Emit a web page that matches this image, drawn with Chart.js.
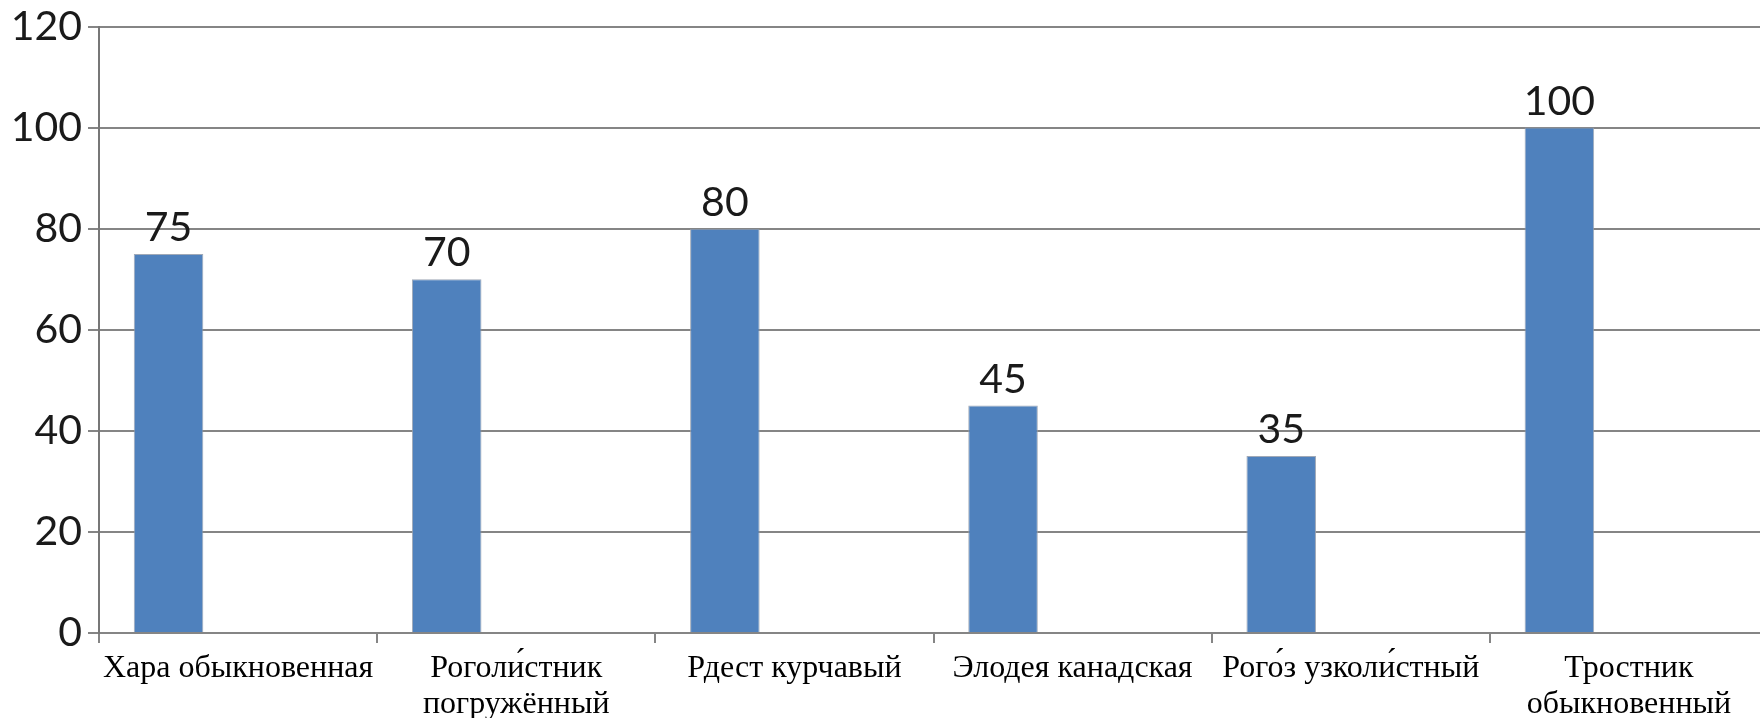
<!DOCTYPE html>
<html>
<head>
<meta charset="utf-8">
<script src="https://cdn.jsdelivr.net/npm/chart.js@4.4.1/dist/chart.umd.min.js"></script>
<style>
    html, body { margin: 0; padding: 0; background: #fff; overflow: hidden; }
    #wrap { width: 1760px; height: 718px; overflow: hidden; }
</style>
</head>
<body>
<div id="wrap"><canvas id="myChart" width="1768" height="718"></canvas></div>
<script>
const categories = [
    "Хара обыкновенная",
    ["Роголи́стник", "погружённый"],
    "Рдест курчавый",
    "Элодея канадская",
    "Рого́з узколи́стный",
    ["Тростник", "обыкновенный"],
];
const values = [75, 70, 80, 45, 35, 100];
// the source chart has a second, empty series, which is why bars sit left
const emptySeries = [null, null, null, null, null, null];
const yTicks = [0, 20, 40, 60, 80, 100, 120];

const numberFont = { family: "Lato", size: 41, lineHeight: 1.0 };

// draws the value above each bar
const barLabels = {
    id: "barLabels",
    afterDatasetsDraw(chart) {
        const ctx = chart.ctx;
        const meta = chart.getDatasetMeta(0);
        ctx.save();
        ctx.font = "41px Lato";
        ctx.fillStyle = "#1a1a1a";
        ctx.textAlign = "center";
        ctx.textBaseline = "alphabetic";
        meta.data.forEach((bar, i) => {
            ctx.fillText(String(values[i]), bar.x, bar.y - 13);
        });
        ctx.restore();
    },
};

function numBorrowBook() {
    const ctx = document.getElementById("myChart");
    new Chart(ctx, {
        type: "bar",
        data: {
            labels: categories,
            datasets: [
                {
                    label: "Series 1",
                    data: values,
                    backgroundColor: "#4f81bd",
                    borderColor: "rgba(150, 160, 175, 0.9)",
                    borderWidth: 1,
                    categoryPercentage: 1.0,
                    barPercentage: 0.5,
                },
                {
                    label: "Series 2",
                    data: emptySeries,
                    backgroundColor: "#c0504d",
                    categoryPercentage: 1.0,
                    barPercentage: 0.5,
                },
            ],
        },
        plugins: [barLabels],
        options: {
            responsive: false,
            animation: false,
            layout: { padding: { top: 24, right: 0, left: 0, bottom: 0 } },
            plugins: {
                legend: { display: false },
                tooltip: { enabled: false },
            },
            scales: {
                x: {
                    grid: {
                        drawOnChartArea: false,
                        drawTicks: true,
                        tickLength: 10,
                        color: "#858585",
                        lineWidth: 2,
                    },
                    border: { color: "#858585", width: 2 },
                    ticks: {
                        color: "#000",
                        font: { family: "Liberation Serif", size: 32, lineHeight: 1.125 },
                        padding: 8,
                        maxRotation: 0,
                        autoSkip: false,
                    },
                    afterFit(scale) {
                        scale.height = 85;
                    },
                },
                y: {
                    min: 0,
                    max: 120,
                    afterBuildTicks(scale) {
                        scale.ticks = yTicks.map((v) => ({ value: v }));
                    },
                    grid: {
                        color: "#858585",
                        lineWidth: 2,
                        tickLength: 11,
                    },
                    border: { color: "#777", width: 2 },
                    ticks: {
                        color: "#1a1a1a",
                        font: numberFont,
                        padding: 6,
                    },
                    afterFit(scale) {
                        scale.width = 99;
                    },
                },
            },
        },
    });
}

numBorrowBook();
</script>
</body>
</html>
